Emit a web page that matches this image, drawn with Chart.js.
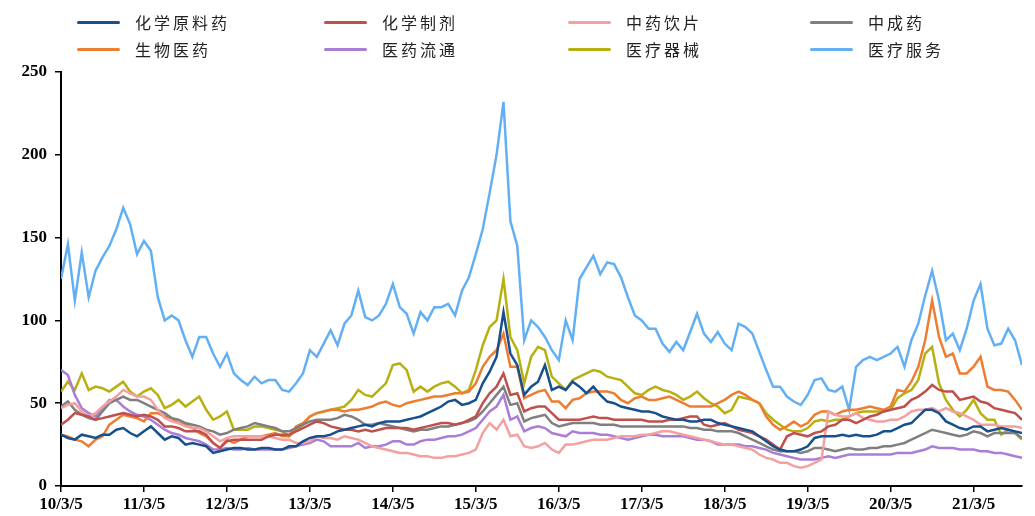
<!DOCTYPE html>
<html>
<head>
<meta charset="utf-8">
<script src="https://cdn.jsdelivr.net/npm/chart.js@4.4.0/dist/chart.umd.min.js"></script>
<style>
    html, body { margin: 0; padding: 0; background: #fff; }
    #wrap { position: relative; width: 1035px; height: 516px; }
    #chart { position: absolute; left: 0; top: 0; }
    #legend { position: absolute; left: 0; top: 0; width: 1035px; height: 64px;
        font-family: 'Noto Sans CJK SC', sans-serif; font-size: 16px; color: #222; }
    .item { position: absolute; display: flex; align-items: center; height: 20px; white-space: nowrap; }
    .item i { display: inline-block; width: 43px; height: 3px; margin-right: 15px; border-radius: 2px; }
    .item span { letter-spacing: 3px; }
</style>
</head>
<body>
<div id="wrap">
    <canvas id="chart" width="1035" height="516"></canvas>
    <div id="legend"></div>
</div>
<script>
// monthly points, index 0 = 2010/3, last = 2021/10
const tickLabels = ['10/3/5', '11/3/5', '12/3/5', '13/3/5', '14/3/5', '15/3/5',
    '16/3/5', '17/3/5', '18/3/5', '19/3/5', '20/3/5', '21/3/5'];

const seriesNames = ['化学原料药', '化学制剂', '中药饮片', '中成药',
    '生物医药', '医药流通', '医疗器械', '医疗服务'];

const rawMaterial = [
    31, 29, 28, 31, 30, 29, 31, 31, 34, 35, 32, 30,
    33, 36, 32, 28, 30, 29, 25, 26, 25, 24, 20, 21,
    22, 23, 23, 22, 22, 23, 23, 22, 22, 24, 24, 27,
    29, 30, 30, 31, 33, 34, 35, 36, 37, 36, 38, 39,
    39, 39, 40, 41, 42, 44, 46, 48, 51, 52, 49, 50,
    52, 62, 69, 78, 105, 80, 73, 55, 60, 63, 73, 58,
    60, 58, 63, 60, 56, 60, 55, 51, 50, 48, 47, 46,
    45, 45, 44, 42, 41, 40, 40, 39, 39, 40, 40, 38,
    37, 36, 35, 34, 33, 30, 27, 24, 22, 21, 21, 22,
    24, 29, 30, 30, 30, 31, 30, 31, 30, 30, 31, 33,
    33, 35, 37, 38, 42, 46, 46, 44, 39, 37, 35, 34,
    36, 36, 33, 34, 35, 34, 33, 32
];
const preparations = [
    37, 40, 44, 43, 42, 40, 41, 42, 43, 44, 43, 42,
    43, 42, 40, 36, 36, 35, 33, 33, 33, 31, 26, 23,
    27, 28, 28, 28, 28, 28, 30, 31, 31, 31, 33, 35,
    37, 39, 38, 36, 35, 34, 34, 33, 34, 33, 34, 35,
    35, 35, 35, 34, 35, 36, 37, 38, 38, 37, 38, 40,
    42, 50, 56, 60, 68, 55, 56, 45, 47, 48, 48, 44,
    40, 40, 40, 40, 41, 42, 41, 41, 40, 40, 40, 40,
    40, 39, 39, 39, 40, 40, 41, 42, 42, 37, 36, 37,
    38, 36, 34, 33, 32, 30, 28, 25, 22, 30, 32, 31,
    30, 32, 33, 36, 37, 40, 40, 38, 40, 42, 43, 45,
    46, 47, 48, 52, 54, 57, 61, 58, 57, 57, 52, 53,
    54, 51, 50, 47, 46, 45, 44, 40
];
const herbalPieces = [
    47, 49, 50, 45, 42, 44, 48, 51, 54, 58, 56, 54,
    54, 52, 46, 41, 39, 38, 36, 35, 35, 33, 30, 27,
    29, 30, 30, 30, 30, 30, 30, 29, 28, 28, 26, 26,
    27, 30, 29, 29, 28, 30, 29, 28, 26, 24, 23, 22,
    21, 20, 20, 19, 18, 18, 17, 17, 18, 18, 19, 20,
    22, 32, 38, 34, 40, 30, 31, 24, 23, 24, 26, 22,
    20, 25, 25, 26, 27, 28, 28, 28, 29, 30, 30, 30,
    31, 31, 32, 33, 33, 32, 31, 30, 29, 28, 27, 26,
    25, 25, 24, 23, 22, 19, 17, 16, 14, 14, 12, 11,
    12, 14, 16, 45, 43, 42, 42, 44, 41, 40, 39, 39,
    40, 40, 42, 45, 46, 46, 47, 45, 47, 45, 44, 42,
    40, 37, 37, 37, 36, 36, 36, 35
];
const patentMedicine = [
    48, 51, 46, 43, 41, 40, 45, 50, 52, 54, 52, 52,
    50, 48, 46, 44, 41, 40, 38, 37, 36, 34, 33, 31,
    32, 34, 35, 36, 38, 37, 36, 35, 33, 33, 35, 37,
    39, 40, 40, 40, 41, 43, 42, 40, 37, 37, 38, 37,
    36, 35, 34, 33, 34, 34, 35, 36, 36, 37, 38, 39,
    41, 45, 50, 55, 60, 49, 50, 39, 41, 42, 43, 38,
    36, 37, 38, 38, 38, 38, 37, 37, 37, 36, 36, 36,
    36, 36, 36, 36, 36, 36, 36, 35, 35, 34, 34, 33,
    33, 33, 32, 30, 28, 26, 24, 22, 21, 21, 21, 20,
    21, 23, 23, 22, 21, 22, 23, 22, 22, 23, 23, 24,
    24, 25, 26, 28, 30, 32, 34, 33, 32, 31, 30, 31,
    33, 32, 30, 32, 32, 32, 32, 29
];
const biotech = [
    31, 30, 28, 27, 24, 28, 30, 37, 40, 43, 42, 41,
    39, 44, 44, 42, 41, 38, 37, 35, 32, 30, 26, 23,
    28, 26, 28, 30, 30, 30, 31, 32, 30, 30, 36, 38,
    42, 44, 45, 46, 46, 45, 46, 46, 47, 48, 50, 51,
    49, 48, 50, 51, 52, 53, 54, 54, 55, 56, 56, 57,
    62, 72, 78, 82, 92, 72, 72, 53, 55, 57, 58, 51,
    51, 47, 52, 53, 56, 57, 57, 57, 56, 52, 50, 53,
    54, 52, 52, 53, 54, 52, 50, 48, 48, 48, 48, 50,
    52, 55, 57, 55, 52, 50, 42, 37, 34, 36, 39, 36,
    38, 43, 45, 45, 43, 45, 46, 46, 47, 48, 47, 46,
    48, 58, 57, 63, 72, 88, 112, 90, 78, 80, 68, 68,
    72, 78, 60, 58, 58, 57, 52, 46
];
const distribution = [
    70, 67, 55, 47, 44, 42, 47, 52, 52, 48, 45, 43,
    42, 40, 37, 34, 32, 31, 29, 28, 27, 25, 22, 22,
    23, 22, 22, 23, 22, 22, 22, 22, 22, 23, 24, 25,
    26, 28, 27, 24, 24, 24, 24, 26, 23, 24, 24, 25,
    27, 27, 25, 25, 27, 28, 28, 29, 30, 30, 31, 33,
    35, 40, 45, 48, 55, 40, 42, 33, 35, 36, 35, 32,
    31, 30, 33, 32, 32, 32, 31, 31, 30, 29, 28, 29,
    30, 31, 31, 30, 30, 30, 30, 29, 28, 28, 27, 25,
    25, 25, 25, 24, 24, 23, 22, 20, 19, 18, 17, 16,
    16, 16, 17, 18, 17, 18, 19, 19, 19, 19, 19, 19,
    19, 20, 20, 20, 21, 22, 24, 23, 23, 23, 22, 22,
    22, 21, 21, 20, 20, 19, 18, 17
];
const devices = [
    57, 63, 58, 68, 58, 60, 59, 57, 60, 63, 57, 54,
    57, 59, 55, 47, 49, 52, 48, 51, 54, 46, 40, 42,
    45, 34, 34, 34, 36, 36, 35, 34, 33, 30, 34, 37,
    42, 44, 45, 46, 47, 48, 52, 58, 55, 54, 58, 62,
    73, 74, 70, 57, 60, 57, 60, 62, 63, 60, 56, 58,
    70, 85, 96, 100, 125, 90, 82, 62, 78, 84, 82, 66,
    62, 58, 64, 66, 68, 70, 69, 66, 65, 64, 60, 56,
    55, 58, 60, 58, 57, 55, 52, 54, 57, 53, 50, 48,
    44, 46, 54, 53, 52, 50, 44, 40, 37, 34, 33, 33,
    35, 39, 40, 39, 40, 40, 42, 44, 45, 45, 45, 45,
    46, 53, 56, 58, 64, 80, 84, 62, 52, 46, 42, 46,
    52, 44, 40, 40, 31, 34, 32, 28
];
const services = [
    125, 146, 112, 141, 114, 130, 138, 145, 155, 168, 158, 140,
    148, 142, 114, 100, 103, 100, 88, 78, 90, 90, 80, 72,
    80, 68, 64, 61, 66, 62, 64, 64, 58, 57, 62, 68,
    82, 78, 86, 94, 85, 98, 103, 118, 102, 100, 103, 110,
    122, 108, 104, 92, 105, 100, 108, 108, 110, 103, 118, 126,
    140, 155, 177, 200, 232, 160, 145, 88, 100, 96, 90, 82,
    76, 100, 88, 125, 132, 139, 128, 135, 134, 126, 114, 103,
    100, 95, 95, 86, 81, 87, 82, 93, 104, 92, 87, 93,
    86, 82, 98, 96, 92, 81, 70, 60, 60, 54, 51, 49,
    55, 64, 65, 58, 57, 60, 46, 72, 76, 78, 76, 78,
    80, 84, 72, 88, 98, 115, 130, 112, 88, 92, 82, 95,
    112, 122, 95, 85, 86, 95, 88, 73
];

const seriesValues = [rawMaterial, preparations, herbalPieces, patentMedicine,
    biotech, distribution, devices, services];
const seriesColors = ['#17508c', '#c0504d', '#f5a0a0', '#7f7f7f',
    '#ed7d31', '#aa7dd6', '#b8b012', '#62b0f3'];

const lastIndex = services.length - 1;
const axisFont = { family: 'Liberation Serif', size: 17, weight: 'bold' };

const datasets = seriesValues.map((values, k) => ({
    label: seriesNames[k],
    data: values.map((v, i) => ({ x: i, y: v })),
    borderColor: seriesColors[k],
    backgroundColor: seriesColors[k],
    borderWidth: 2.5,
    pointRadius: 0,
    tension: 0,
    fill: false
}));

const chart = new Chart(document.getElementById('chart'), {
    type: 'line',
    data: { datasets },
    options: {
        responsive: false,
        animation: false,
        layout: { padding: { top: 72, right: 13, left: 0, bottom: 0 } },
        plugins: {
            legend: { display: false },
            tooltip: { enabled: false }
        },
        scales: {
            x: {
                type: 'linear',
                min: 0,
                max: lastIndex,
                afterFit: s => { s.height = 30; },
                grid: { drawOnChartArea: false, drawTicks: true, tickLength: 6, color: '#000', lineWidth: 1.5 },
                border: { color: '#000', width: 2 },
                ticks: {
                    stepSize: 12,
                    includeBounds: false,
                    autoSkip: false,
                    maxRotation: 0,
                    padding: 2,
                    color: '#000',
                    font: axisFont,
                    callback: v => tickLabels[v / 12]
                }
            },
            y: {
                min: 0,
                max: 250,
                afterFit: s => { s.width = 61; },
                grid: { drawOnChartArea: false, drawTicks: true, tickLength: 6, color: '#000', lineWidth: 1.5 },
                border: { color: '#000', width: 2 },
                ticks: {
                    stepSize: 50,
                    padding: 8,
                    color: '#000',
                    font: axisFont
                }
            }
        }
    }
});

// two-row legend, filled row by row like the series order
const legendCols = [77, 324, 568, 810];
const legendRows = [12, 39];
const legendEl = document.getElementById('legend');
chart.data.datasets.forEach((ds, i) => {
    const item = document.createElement('div');
    item.className = 'item';
    item.style.left = legendCols[i % 4] + 'px';
    item.style.top = legendRows[Math.floor(i / 4)] + 'px';
    const swatch = document.createElement('i');
    swatch.style.background = ds.borderColor;
    const text = document.createElement('span');
    text.textContent = ds.label;
    item.appendChild(swatch);
    item.appendChild(text);
    legendEl.appendChild(item);
});
</script>
</body>
</html>
